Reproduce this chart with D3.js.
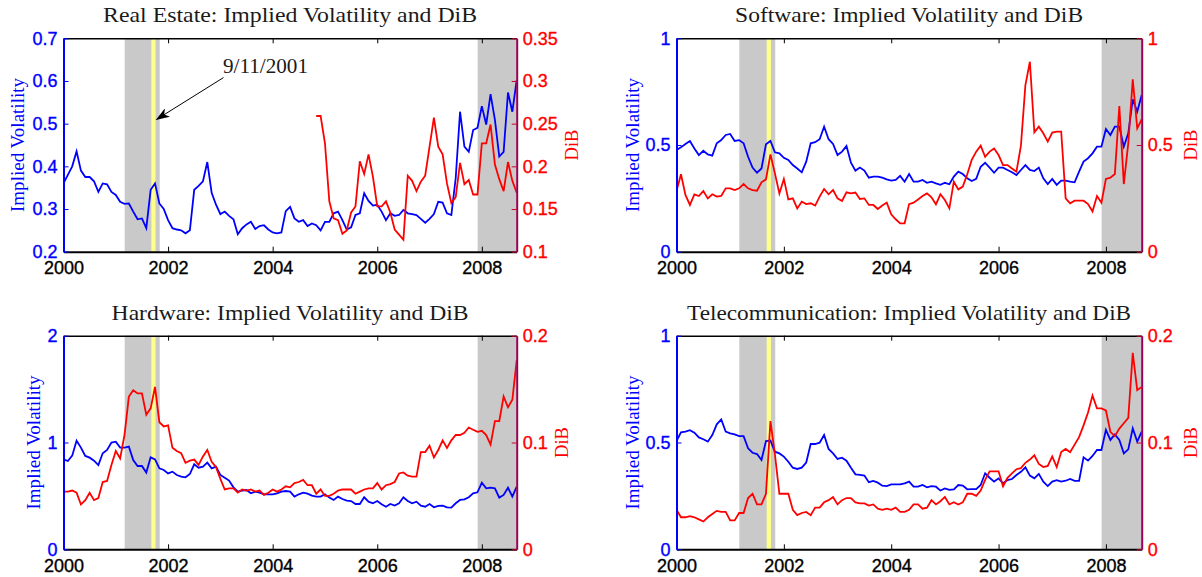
<html>
<head>
<script src="https://d3js.org/d3.v7.min.js"></script>
<style>
	body { margin:0; background:white; }
	svg { display:block; }
	.title { font-family:"Liberation Serif", serif; font-size:21px; fill:#1a1a1a; }
	.ylab { font-family:"Liberation Serif", serif; font-size:19px; }
	.tick text { font-family:"Liberation Sans", Arial, sans-serif; font-size:18px; stroke-width:0.35px; }
	.note { font-family:"Liberation Serif", serif; font-size:20px; fill:#1a1a1a; }
</style>
</head>
<body>
<svg width=1202 height=577></svg>
<script>

// monthly observations, Jan 2000 .. Sep 2008
var startYear = 2000;
var nMonths = 105;
var xTicks = [2000, 2002, 2004, 2006, 2008];
var recessions = [[2001.17, 2001.84], [2007.92, 2008.67]];
var sept11 = [2001.68, 2001.76];

// Real Estate
var reIV = [0.36,0.38,0.40,0.435,0.39,0.375,0.375,0.365,0.34,0.36,
	0.358,0.34,0.333,0.317,0.312,0.313,0.294,0.276,0.278,0.255,
	0.345,0.36,0.313,0.30,0.274,0.255,0.252,0.25,0.243,0.25,
	0.345,0.354,0.365,0.41,0.338,0.31,0.288,0.294,0.284,0.276,
	0.241,0.255,0.264,0.27,0.253,0.26,0.262,0.252,0.245,0.243,
	0.245,0.295,0.305,0.278,0.27,0.274,0.26,0.266,0.262,0.25,
	0.27,0.27,0.29,0.294,0.274,0.252,0.257,0.286,0.29,0.337,
	0.319,0.308,0.31,0.294,0.274,0.29,0.284,0.286,0.298,0.29,
	0.288,0.286,0.277,0.268,0.277,0.288,0.317,0.315,0.29,0.286,
	0.372,0.528,0.446,0.434,0.485,0.49,0.541,0.498,0.569,0.509,
	0.423,0.434,0.573,0.528,0.602];
var reDiBStart = 58;   // DiB series starts in late 2004
var reDiB = [0.259,0.259,0.227,0.159,0.139,0.137,0.121,0.125,0.146,0.153,
	0.206,0.191,0.214,0.188,0.153,0.153,0.159,0.146,0.126,0.12,
	0.114,0.189,0.183,0.171,0.182,0.189,0.223,0.257,0.223,0.214,
	0.18,0.157,0.164,0.204,0.179,0.184,0.167,0.167,0.227,0.227,
	0.249,0.202,0.185,0.171,0.205,0.183,0.169];

// Software
var swIV = [0.477,0.489,0.505,0.519,0.484,0.453,0.473,0.456,0.45,0.508,
	0.523,0.547,0.552,0.519,0.523,0.508,0.445,0.394,0.37,0.39,
	0.503,0.519,0.466,0.461,0.44,0.43,0.406,0.39,0.372,0.422,
	0.508,0.513,0.527,0.586,0.527,0.505,0.453,0.469,0.495,0.417,
	0.38,0.394,0.38,0.347,0.352,0.352,0.347,0.339,0.333,0.336,
	0.355,0.328,0.364,0.328,0.328,0.336,0.323,0.328,0.32,0.313,
	0.323,0.316,0.352,0.375,0.364,0.344,0.331,0.341,0.398,0.417,
	0.394,0.37,0.394,0.394,0.383,0.372,0.359,0.383,0.406,0.383,
	0.378,0.394,0.344,0.317,0.341,0.313,0.333,0.333,0.328,0.325,
	0.375,0.422,0.438,0.461,0.492,0.492,0.575,0.547,0.586,0.586,
	0.492,0.555,0.714,0.656,0.734];
var swDiB = [0.284,0.363,0.266,0.219,0.269,0.261,0.284,0.25,0.269,0.258,
	0.261,0.297,0.297,0.289,0.297,0.317,0.297,0.289,0.286,0.325,
	0.339,0.456,0.367,0.273,0.341,0.245,0.25,0.203,0.234,0.223,
	0.227,0.216,0.258,0.294,0.269,0.289,0.25,0.238,0.278,0.273,
	0.277,0.247,0.25,0.219,0.219,0.2,0.216,0.23,0.175,0.152,
	0.133,0.133,0.223,0.23,0.245,0.261,0.273,0.255,0.222,0.269,
	0.242,0.203,0.328,0.292,0.305,0.363,0.43,0.469,0.497,0.445,
	0.469,0.484,0.453,0.406,0.406,0.39,0.375,0.497,0.781,0.89,
	0.559,0.586,0.555,0.516,0.558,0.563,0.563,0.25,0.227,0.239,
	0.239,0.239,0.223,0.188,0.261,0.23,0.341,0.347,0.364,0.683,
	0.317,0.508,0.808,0.578,0.62];

// Hardware
var hwIV = [0.842,0.827,0.877,1.017,0.952,0.874,0.858,0.83,0.789,0.899,
	0.93,1.0,1.008,0.952,0.952,0.961,0.836,0.78,0.78,0.718,
	0.861,0.842,0.758,0.743,0.711,0.727,0.696,0.68,0.674,0.705,
	0.796,0.764,0.774,0.811,0.758,0.774,0.696,0.671,0.643,0.58,
	0.54,0.549,0.555,0.524,0.54,0.53,0.515,0.515,0.515,0.524,
	0.54,0.546,0.54,0.493,0.515,0.53,0.521,0.502,0.493,0.493,
	0.515,0.484,0.462,0.493,0.471,0.456,0.452,0.424,0.424,0.487,
	0.446,0.431,0.452,0.421,0.399,0.424,0.409,0.431,0.487,0.452,
	0.431,0.446,0.409,0.399,0.424,0.393,0.406,0.409,0.393,0.39,
	0.431,0.462,0.468,0.487,0.524,0.534,0.624,0.571,0.577,0.571,
	0.484,0.509,0.577,0.493,0.587];
var hwDiB = [0.054,0.054,0.055,0.053,0.042,0.046,0.053,0.046,0.048,0.063,
	0.064,0.079,0.092,0.085,0.107,0.143,0.149,0.146,0.146,0.126,
	0.132,0.152,0.119,0.115,0.116,0.095,0.092,0.09,0.081,0.083,
	0.084,0.079,0.087,0.093,0.082,0.077,0.066,0.056,0.057,0.057,
	0.053,0.056,0.055,0.056,0.054,0.055,0.051,0.053,0.056,0.054,
	0.056,0.059,0.058,0.062,0.063,0.065,0.06,0.06,0.052,0.056,
	0.05,0.05,0.052,0.055,0.056,0.056,0.056,0.052,0.054,0.056,
	0.057,0.057,0.062,0.056,0.06,0.061,0.063,0.071,0.072,0.069,
	0.068,0.068,0.091,0.091,0.097,0.086,0.093,0.102,0.095,0.102,
	0.107,0.107,0.109,0.114,0.112,0.11,0.111,0.107,0.098,0.12,
	0.12,0.143,0.133,0.14,0.177];

// Telecommunication
var tcIV = [0.507,0.548,0.551,0.558,0.546,0.524,0.515,0.504,0.535,0.585,
	0.608,0.551,0.543,0.538,0.53,0.53,0.473,0.452,0.446,0.418,
	0.507,0.509,0.457,0.449,0.434,0.41,0.382,0.376,0.382,0.406,
	0.493,0.493,0.499,0.535,0.47,0.449,0.423,0.429,0.415,0.382,
	0.351,0.348,0.345,0.314,0.32,0.312,0.298,0.296,0.304,0.304,
	0.304,0.309,0.317,0.293,0.293,0.301,0.29,0.296,0.293,0.275,
	0.285,0.278,0.281,0.301,0.298,0.281,0.282,0.282,0.301,0.356,
	0.335,0.317,0.332,0.309,0.324,0.329,0.348,0.363,0.384,0.345,
	0.332,0.353,0.317,0.296,0.317,0.324,0.317,0.321,0.329,0.32,
	0.32,0.431,0.415,0.437,0.465,0.465,0.559,0.512,0.538,0.512,
	0.449,0.468,0.566,0.504,0.551];
var tcDiB = [0.037,0.03,0.03,0.031,0.03,0.028,0.026,0.03,0.033,0.036,
	0.035,0.035,0.027,0.027,0.034,0.034,0.048,0.052,0.042,0.042,
	0.052,0.12,0.089,0.052,0.052,0.052,0.037,0.032,0.034,0.035,
	0.032,0.039,0.039,0.044,0.046,0.049,0.042,0.046,0.048,0.048,
	0.044,0.043,0.043,0.041,0.042,0.038,0.037,0.038,0.037,0.039,
	0.035,0.035,0.037,0.042,0.042,0.038,0.039,0.046,0.042,0.045,
	0.049,0.042,0.044,0.042,0.044,0.052,0.052,0.05,0.055,0.065,
	0.073,0.073,0.073,0.059,0.067,0.071,0.075,0.076,0.081,0.084,
	0.088,0.08,0.077,0.078,0.087,0.077,0.091,0.094,0.091,0.098,
	0.105,0.116,0.128,0.144,0.132,0.132,0.13,0.11,0.106,0.113,
	0.118,0.123,0.184,0.149,0.152];

var svg = d3.select("svg");

var defs = svg.append("defs");
defs.append("marker")
	.attr("id","arrowhead")
	.attr("viewBox","0 0 14 10")
	.attr("refX",13).attr("refY",5)
	.attr("markerWidth",14).attr("markerHeight",10)
	.attr("markerUnits","userSpaceOnUse")
	.attr("orient","auto")
	.append("path")
	.attr("d","M0,0 L14,5 L0,10 L4,5 Z")
	.attr("fill","#000");

function series(values, start) {
	start = start || 0;
	var out = [];
	for (var i = 0; i < nMonths; i++) {
		var v = (i >= start && i - start < values.length) ? values[i - start] : null;
		out.push({t: startYear + i/12, v: v});
	}
	return out;
}

function drawPanel(p) {
	var g = svg.append("g");
	var x = d3.scaleLinear().domain([startYear, startYear + (nMonths-1)/12]).range([p.x0, p.x1]);
	var yL = d3.scaleLinear().domain(p.left).range([p.y1, p.y0]);
	var yR = d3.scaleLinear().domain(p.right).range([p.y1, p.y0]);

	// recession shading
	recessions.forEach(function(r){
		var a = x(r[0]), b = Math.min(x(r[1]), p.x1);
		g.append("rect").attr("x",a).attr("y",p.y0)
			.attr("width",b-a).attr("height",p.y1-p.y0)
			.attr("fill","#c9c9c9");
	});
	g.append("rect").attr("x",x(sept11[0])).attr("y",p.y0)
		.attr("width",x(sept11[1])-x(sept11[0])).attr("height",p.y1-p.y0)
		.attr("fill","#ffff8c");

	var clipId = "clip" + p.id;
	defs.append("clipPath").attr("id",clipId).append("rect")
		.attr("x",p.x0).attr("y",p.y0).attr("width",p.x1-p.x0).attr("height",p.y1-p.y0);

	var lineL = d3.line().defined(function(d){return d.v != null;})
		.x(function(d){return x(d.t);}).y(function(d){return yL(d.v);});
	var lineR = d3.line().defined(function(d){return d.v != null;})
		.x(function(d){return x(d.t);}).y(function(d){return yR(d.v);});

	g.append("path").datum(p.iv).attr("d",lineL)
		.attr("clip-path","url(#"+clipId+")")
		.attr("fill","none").attr("stroke","#0000ff").attr("stroke-width",1.8);
	g.append("path").datum(p.dib).attr("d",lineR)
		.attr("clip-path","url(#"+clipId+")")
		.attr("fill","none").attr("stroke","#ff0000").attr("stroke-width",1.8);

	// axes (ticks inward, matlab style)
	var top = g.append("g").attr("transform","translate(0,"+p.y0+")")
		.call(d3.axisTop(x).tickValues(xTicks).tickSize(-5).tickSizeOuter(0).tickFormat(""));
	top.select(".domain").attr("stroke","#000").attr("stroke-width",1.5);
	top.selectAll(".tick line").attr("stroke","#000");

	var bottom = g.append("g").attr("transform","translate(0,"+p.y1+")")
		.call(d3.axisBottom(x).tickValues(xTicks).tickSize(-5).tickSizeOuter(0).tickPadding(10).tickFormat(d3.format("d")));
	bottom.select(".domain").attr("stroke","#000").attr("stroke-width",2);
	bottom.selectAll(".tick line").attr("stroke","#000");
	bottom.selectAll(".tick text").attr("fill","#000").attr("stroke","#000");

	var left = g.append("g").attr("transform","translate("+p.x0+",0)")
		.call(d3.axisLeft(yL).tickValues(p.leftTicks).tickSize(-5).tickSizeOuter(0).tickPadding(6).tickFormat(String));
	left.select(".domain").attr("stroke","#0000ff").attr("stroke-width",2);
	left.selectAll(".tick line").attr("stroke","#0000ff");
	left.selectAll(".tick text").attr("fill","#0000ff").attr("stroke","#0000ff");

	var right = g.append("g").attr("transform","translate("+p.x1+",0)")
		.call(d3.axisRight(yR).tickValues(p.rightTicks).tickSize(-5).tickSizeOuter(0).tickPadding(6).tickFormat(String));
	right.select(".domain").attr("stroke","#990055").attr("stroke-width",2);
	right.selectAll(".tick line").attr("stroke","#cc0033");
	right.selectAll(".tick text").attr("fill","#ff0000").attr("stroke","#ff0000");

	// titles and labels
	g.append("text").attr("class","title")
		.attr("x",(p.x0+p.x1)/2).attr("y",p.y0-16)
		.attr("text-anchor","middle")
		.attr("textLength",p.titleLen).attr("lengthAdjust","spacingAndGlyphs")
		.text(p.title);

	var my = (p.y0+p.y1)/2;
	g.append("text").attr("class","ylab").attr("fill","#0000ff")
		.attr("text-anchor","middle")
		.attr("transform","translate("+p.leftLabX+","+my+") rotate(-90)")
		.attr("dy","0.35em")
		.attr("textLength",134).attr("lengthAdjust","spacingAndGlyphs")
		.text("Implied Volatility");
	g.append("text").attr("class","ylab").attr("fill","#ff0000")
		.attr("text-anchor","middle")
		.attr("transform","translate("+p.rightLabX+","+my+") rotate(-90)")
		.attr("dy","0.35em")
		.attr("textLength",31).attr("lengthAdjust","spacingAndGlyphs")
		.text("DiB");

	return {x:x, yL:yL, g:g};
}

var re = drawPanel({id:1, title:"Real Estate: Implied Volatility and DiB", titleLen:374,
	x0:63.5, x1:516.7, y0:38.3, y1:251.7,
	left:[0.2,0.7], leftTicks:[0.2,0.3,0.4,0.5,0.6,0.7],
	right:[0.1,0.35], rightTicks:[0.1,0.15,0.2,0.25,0.3,0.35],
	iv:series(reIV), dib:series(reDiB, reDiBStart),
	leftLabX:17, rightLabX:571});

drawPanel({id:2, title:"Software: Implied Volatility and DiB", titleLen:348,
	x0:676.5, x1:1141.7, y0:38.3, y1:251.7,
	left:[0,1], leftTicks:[0,0.5,1],
	right:[0,1], rightTicks:[0,0.5,1],
	iv:series(swIV), dib:series(swDiB),
	leftLabX:632, rightLabX:1190});

drawPanel({id:3, title:"Hardware: Implied Volatility and DiB", titleLen:357,
	x0:63.5, x1:516.7, y0:335.7, y1:549.3,
	left:[0,2], leftTicks:[0,1,2],
	right:[0,0.2], rightTicks:[0,0.1,0.2],
	iv:series(hwIV), dib:series(hwDiB),
	leftLabX:33, rightLabX:561});

drawPanel({id:4, title:"Telecommunication: Implied Volatility and DiB", titleLen:444,
	x0:676.5, x1:1141.7, y0:335.7, y1:549.3,
	left:[0,1], leftTicks:[0,0.5,1],
	right:[0,0.2], rightTicks:[0,0.1,0.2],
	iv:series(tcIV), dib:series(tcDiB),
	leftLabX:632, rightLabX:1190});

// 9/11 annotation
re.g.append("line")
	.attr("x1",re.x(2003.06)).attr("y1",re.yL(0.608))
	.attr("x2",re.x(2001.78)).attr("y2",re.yL(0.51))
	.attr("stroke","#000").attr("stroke-width",1)
	.attr("marker-end","url(#arrowhead)");
re.g.append("text").attr("class","note")
	.attr("x",re.x(2003.05)).attr("y",re.yL(0.618))
	.attr("textLength",85).attr("lengthAdjust","spacingAndGlyphs")
	.text("9/11/2001");

</script>
</body>
</html>
